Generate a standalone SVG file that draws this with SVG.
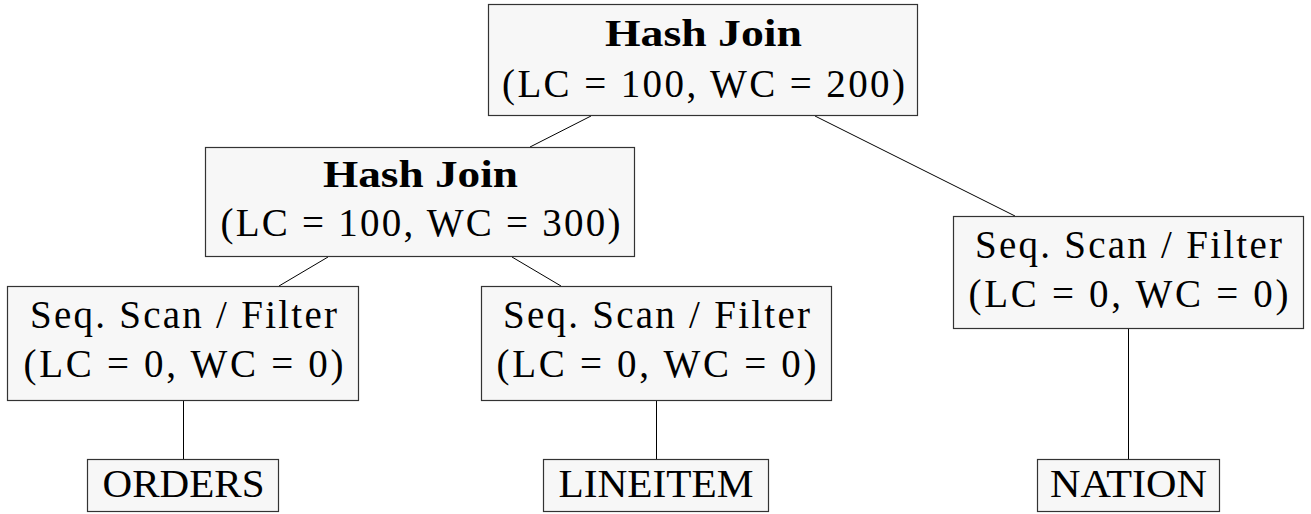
<svg xmlns="http://www.w3.org/2000/svg" width="1311" height="514" viewBox="0 0 1311 514">
<style>
.box{fill:#f7f7f7;stroke:#333;stroke-width:1.2}
.t{font-family:"Liberation Serif","Times New Roman",serif;font-size:39px;fill:#000;text-anchor:middle}
.b{font-weight:bold;font-size:38px}
.edge{stroke:#000;stroke-width:1;fill:none}
</style>
<rect width="1311" height="514" fill="#fff"/>
<g id="connectors">
<line class="edge" x1="591" y1="116" x2="530" y2="147"/>
<line class="edge" x1="815" y1="116" x2="1015" y2="216"/>
<line class="edge" x1="328" y1="257" x2="279" y2="286"/>
<line class="edge" x1="512" y1="257" x2="561" y2="286"/>
<line class="edge" x1="183.5" y1="401" x2="183.5" y2="459"/>
<line class="edge" x1="656.5" y1="401" x2="656.5" y2="459"/>
<line class="edge" x1="1128.5" y1="329" x2="1128.5" y2="459"/>
</g>
<g id="hashjoin1">
<rect class="box" x="488.5" y="4.5" width="429" height="111"/>
<text class="t b" x="703.5" y="46" textLength="197" lengthAdjust="spacingAndGlyphs">Hash Join</text>
<text class="t" x="703.5" y="97" textLength="403" lengthAdjust="spacing">(LC = 100, WC = 200)</text>
</g>
<g id="hashjoin2">
<rect class="box" x="205.5" y="147.5" width="429" height="109"/>
<text class="t b" x="420.5" y="187" textLength="195" lengthAdjust="spacingAndGlyphs">Hash Join</text>
<text class="t" x="420.5" y="236" textLength="400" lengthAdjust="spacing">(LC = 100, WC = 300)</text>
</g>
<g id="scan_orders">
<rect class="box" x="7.5" y="286.5" width="351" height="114"/>
<text class="t" x="183.5" y="328" textLength="307" lengthAdjust="spacing">Seq. Scan / Filter</text>
<text class="t" x="183.5" y="377" textLength="320" lengthAdjust="spacing">(LC = 0, WC = 0)</text>
</g>
<g id="scan_lineitem">
<rect class="box" x="481.5" y="286.5" width="350" height="114"/>
<text class="t" x="656.5" y="328" textLength="307" lengthAdjust="spacing">Seq. Scan / Filter</text>
<text class="t" x="656.5" y="377" textLength="320" lengthAdjust="spacing">(LC = 0, WC = 0)</text>
</g>
<g id="scan_nation">
<rect class="box" x="953.5" y="216.5" width="350" height="112"/>
<text class="t" x="1128.5" y="258" textLength="307" lengthAdjust="spacing">Seq. Scan / Filter</text>
<text class="t" x="1128.5" y="307" textLength="320" lengthAdjust="spacing">(LC = 0, WC = 0)</text>
</g>
<g id="orders">
<rect class="box" x="87.5" y="459.5" width="191" height="52"/>
<text class="t" x="183.5" y="497" textLength="162" lengthAdjust="spacingAndGlyphs">ORDERS</text>
</g>
<g id="lineitem">
<rect class="box" x="543.5" y="459.5" width="225" height="52"/>
<text class="t" x="656" y="497" textLength="195" lengthAdjust="spacingAndGlyphs">LINEITEM</text>
</g>
<g id="nation">
<rect class="box" x="1037.5" y="459.5" width="182" height="52"/>
<text class="t" x="1128.5" y="497" textLength="157" lengthAdjust="spacingAndGlyphs">NATION</text>
</g>
</svg>
